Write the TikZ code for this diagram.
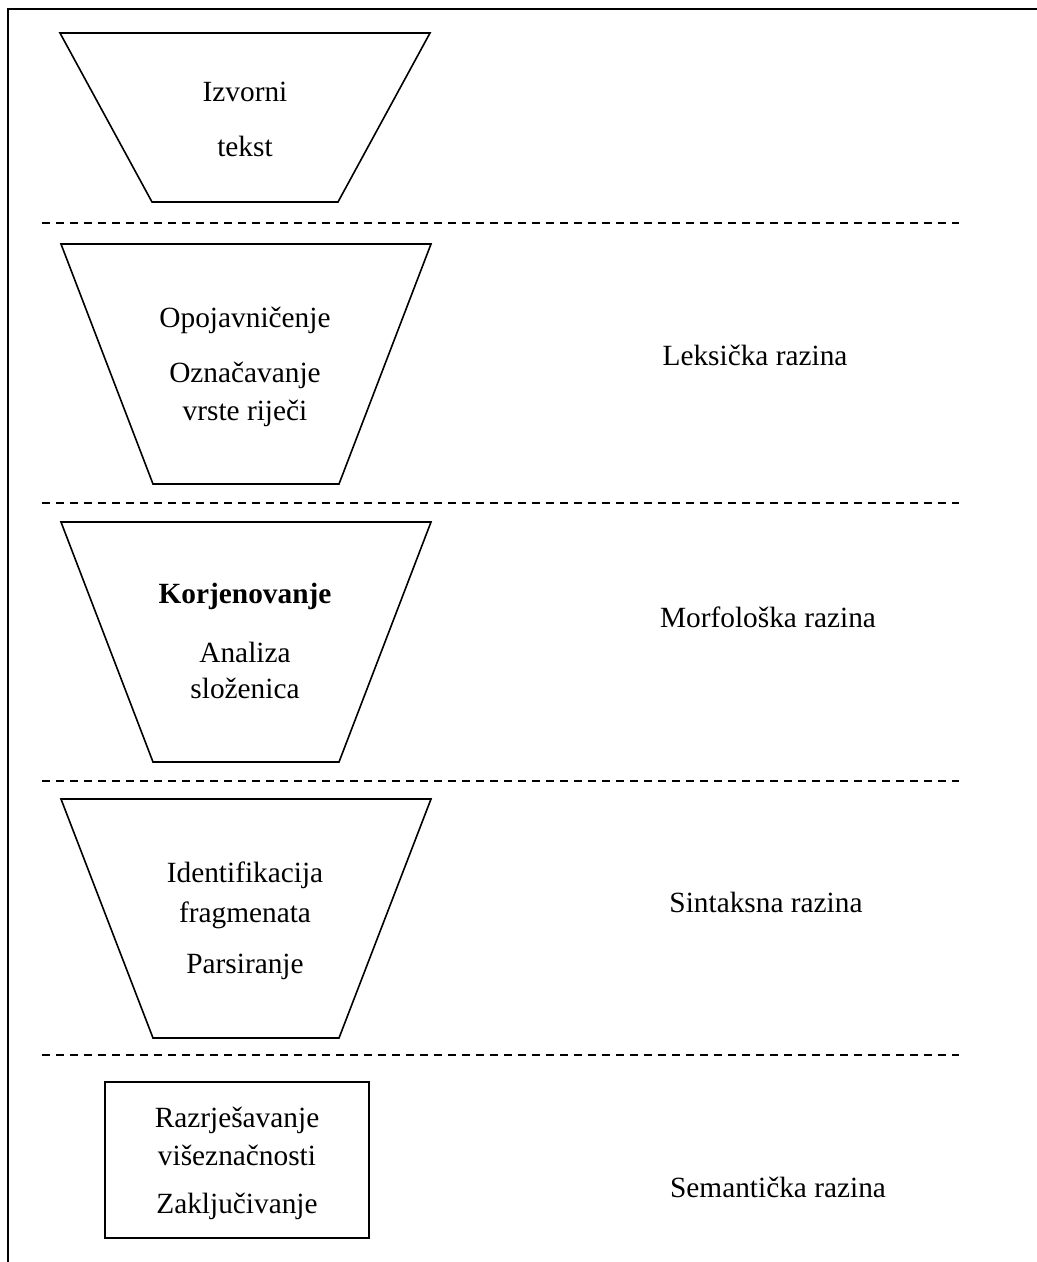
\documentclass[tikz,border=0pt]{standalone}
\usepackage{fontspec}
\setmainfont{Liberation Serif}
\begin{document}
\begin{tikzpicture}[x=0.75pt,y=-0.75pt,
  frameline/.style={line width=1.6pt},
  funnel/.style={line width=1.2pt, line join=miter},
  sep/.style={line width=1.3pt, dash pattern=on 6pt off 4.5pt},
  lbl/.style={inner sep=0pt, anchor=base, font=\fontsize{22pt}{26pt}\selectfont},
  level/.style={lbl}]
\useasboundingbox (0,0) rectangle (1037,1262);
% outer frame: top and left edges only
\draw[frameline] (8,1262) -- (8,9) -- (1037,9);
% separators between levels
\foreach \yy in {223,503,781,1055}
  \draw[sep] (42,\yy) -- (959,\yy);
% funnels
\draw[funnel] (60,33) -- (430,33) -- (338,202) -- (152,202) -- cycle;
\draw[funnel] (61,244) -- (431,244) -- (339,484) -- (153,484) -- cycle;
\draw[funnel] (61,522) -- (431,522) -- (339,762) -- (153,762) -- cycle;
\draw[funnel] (61,799) -- (431,799) -- (339,1038) -- (153,1038) -- cycle;
\draw[funnel] (105,1082) rectangle (369,1238);
% funnel contents
\node[lbl] (t1a) at (245,102) {Izvorni};
\node[lbl] (t1b) at (245,157) {tekst};
\node[lbl] (t2a) at (245,327) {Opojavničenje};
\node[lbl] (t2b) at (245,382) {Označavanje};
\node[lbl] (t2c) at (245,420) {vrste riječi};
\node[lbl] (t3a) at (245,603) {\bfseries Korjenovanje};
\node[lbl] (t3b) at (245,662) {Analiza};
\node[lbl] (t3c) at (245,698) {složenica};
\node[lbl] (t4a) at (245,882) {Identifikacija};
\node[lbl] (t4b) at (245,922) {fragmenata};
\node[lbl] (t4c) at (245,973) {Parsiranje};
\node[lbl] (t5a) at (237,1127) {Razrješavanje};
\node[lbl] (t5b) at (237,1165) {višeznačnosti};
\node[lbl] (t5c) at (237,1213) {Zaključivanje};
% level names
\node[level] (l1) at (755,365) {Leksička razina};
\node[level] (l2) at (768,627) {Morfološka razina};
\node[level] (l3) at (766,912) {Sintaksna razina};
\node[level] (l4) at (778,1197) {Semantička razina};
\end{tikzpicture}
\end{document}
